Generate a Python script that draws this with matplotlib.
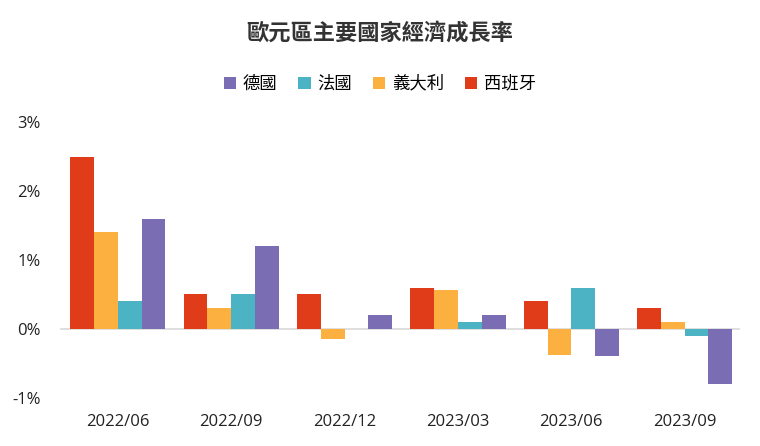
import numpy as np
import matplotlib.pyplot as plt

plt.rcParams['font.family'] = ['Noto Sans CJK TC', 'DejaVu Sans']

periods = ['2022/06', '2022/09', '2022/12', '2023/03', '2023/06', '2023/09']
spain = [2.5, 0.5, 0.5, 0.6, 0.4, 0.3]
italy = [1.4, 0.3, -0.15, 0.57, -0.38, 0.1]
france = [0.4, 0.5, 0.0, 0.1, 0.6, -0.1]
germany = [1.6, 1.2, 0.2, 0.2, -0.4, -0.8]
yticks = [-1, 0, 1, 2, 3]

fig = plt.figure(figsize=(7.6, 4.46), dpi=100)
ax = fig.add_axes([0.079, 0.108, 0.895, 0.618])

x = np.arange(len(periods))
w = 0.21
# drawing order inside each group: 西班牙, 義大利, 法國, 德國
b_es = ax.bar(x - 1.5 * w, spain, w, color='#E03C1A', label='西班牙')
b_it = ax.bar(x - 0.5 * w, italy, w, color='#FBB040', label='義大利')
b_fr = ax.bar(x + 0.5 * w, france, w, color='#4BB3C3', label='法國')
b_de = ax.bar(x + 1.5 * w, germany, w, color='#7B6DB3', label='德國')

ax.axhline(0, color='#D9D9D9', lw=1.2, zorder=0)
ax.set_xlim(-0.51, 5.49)
ax.set_ylim(-1, 3)
ax.set_yticks(yticks)
ax.set_yticklabels([f'{v}%' for v in yticks], family=['Open Sans', 'DejaVu Sans'])
ax.set_xticks(x)
ax.set_xticklabels(periods, family=['Open Sans', 'DejaVu Sans'])
ax.tick_params(length=0, labelsize=12, colors='#222222')
ax.tick_params(axis='x', pad=12)
ax.tick_params(axis='y', pad=14)
for s in ax.spines.values():
    s.set_visible(False)

fig.text(0.5, 0.925, '歐元區主要國家經濟成長率', ha='center', va='center',
         fontsize=16, color='#333333', fontweight='bold')
fig.legend(handles=[b_de, b_fr, b_it, b_es], loc='center', bbox_to_anchor=(0.5, 0.812),
           ncol=4, frameon=False, fontsize=12.5, handlelength=0.7, handleheight=0.7,
           handletextpad=0.4, columnspacing=1.2)

fig.savefig('out.png', dpi=100)
